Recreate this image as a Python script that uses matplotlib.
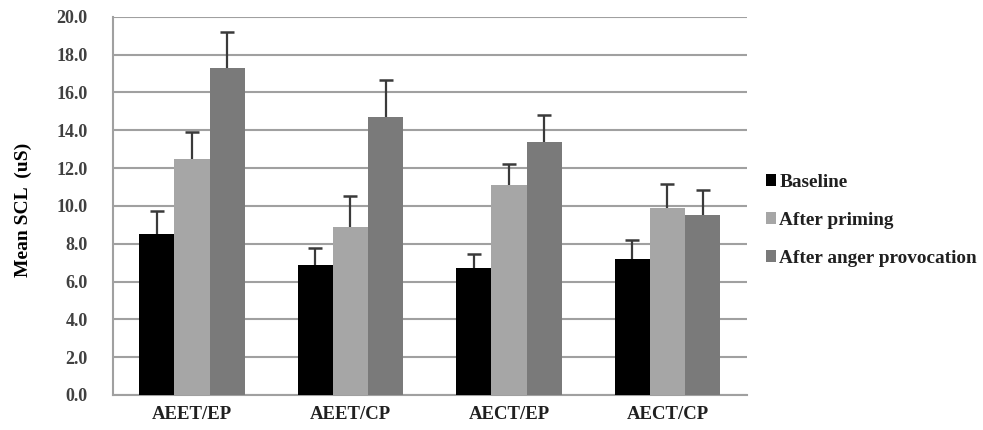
import matplotlib
matplotlib.use("Agg")
import matplotlib.pyplot as plt
import numpy as np

categories = ["AEET/EP", "AEET/CP", "AECT/EP", "AECT/CP"]
series_names = ["Baseline", "After priming", "After anger provocation"]
baseline = [8.5, 6.9, 6.7, 7.2]
priming = [12.5, 8.9, 11.1, 9.9]
anger = [17.3, 14.7, 13.4, 9.5]
baseline_err = [1.25, 0.85, 0.75, 1.0]
priming_err = [1.4, 1.6, 1.1, 1.25]
anger_err = [1.9, 1.95, 1.4, 1.35]
yticks = [0, 2, 4, 6, 8, 10, 12, 14, 16, 18, 20]

values = [baseline, priming, anger]
errors = [baseline_err, priming_err, anger_err]
colors = ["#000000", "#a6a6a6", "#7a7a7a"]

plt.rcParams['font.family'] = ['Liberation Serif', 'DejaVu Serif']

fig = plt.figure(figsize=(9.83, 4.30), dpi=100)
ax = fig.add_axes([0.1147, 0.0814, 0.6449, 0.8796])

x = np.arange(len(categories))
w = 0.222
for i, (vals, errs, c, name) in enumerate(zip(values, errors, colors, series_names)):
    xp = x + (i - 1) * w
    v = np.array(vals)
    e = np.array(errs)
    ax.bar(xp, v, width=w, color=c, label=name, zorder=3)
    ax.vlines(xp, v, v + e, color="#3a3a3a", linewidth=1.6, zorder=4)
    ax.plot(xp, v + e, linestyle='none', marker='_', markersize=10,
            markeredgewidth=1.8, color="#3a3a3a", zorder=4)

ax.set_xlim(-0.5, len(categories) - 0.5)
ax.set_ylim(0, 20)
ax.set_yticks(yticks)
ax.set_yticklabels([f"{t:.1f}" for t in yticks], fontsize=13, fontweight='bold', color="#404040")
ax.set_xticks(x)
ax.set_xticklabels(categories, fontsize=13.5, fontweight='bold', color="#202020")
ax.tick_params(axis='both', length=0)
ax.tick_params(axis='y', pad=18)
ax.tick_params(axis='x', pad=8)
ax.grid(axis='y', color="#a0a0a0", linewidth=1.5, zorder=0)
ax.set_axisbelow(True)
for s in ["top", "right"]:
    ax.spines[s].set_visible(False)
ax.spines["left"].set_color("#a0a0a0")
ax.spines["left"].set_linewidth(1.5)
ax.spines["bottom"].set_color("#a0a0a0")
ax.spines["bottom"].set_linewidth(1.5)

ax.set_ylabel("Mean SCL  (uS)", fontsize=14, fontweight='bold')
ax.yaxis.set_label_coords(-0.127, 0.49)

leg = ax.legend(loc='center left', bbox_to_anchor=(1.03, 0.462), frameon=False,
                borderaxespad=0, borderpad=0,
                handlelength=0.55, handleheight=0.55, handletextpad=0.15,
                labelspacing=1.1, prop=dict(weight='bold', size=13.9))
for t in leg.get_texts():
    t.set_color("#202020")

fig.savefig("out.png", dpi=100)
